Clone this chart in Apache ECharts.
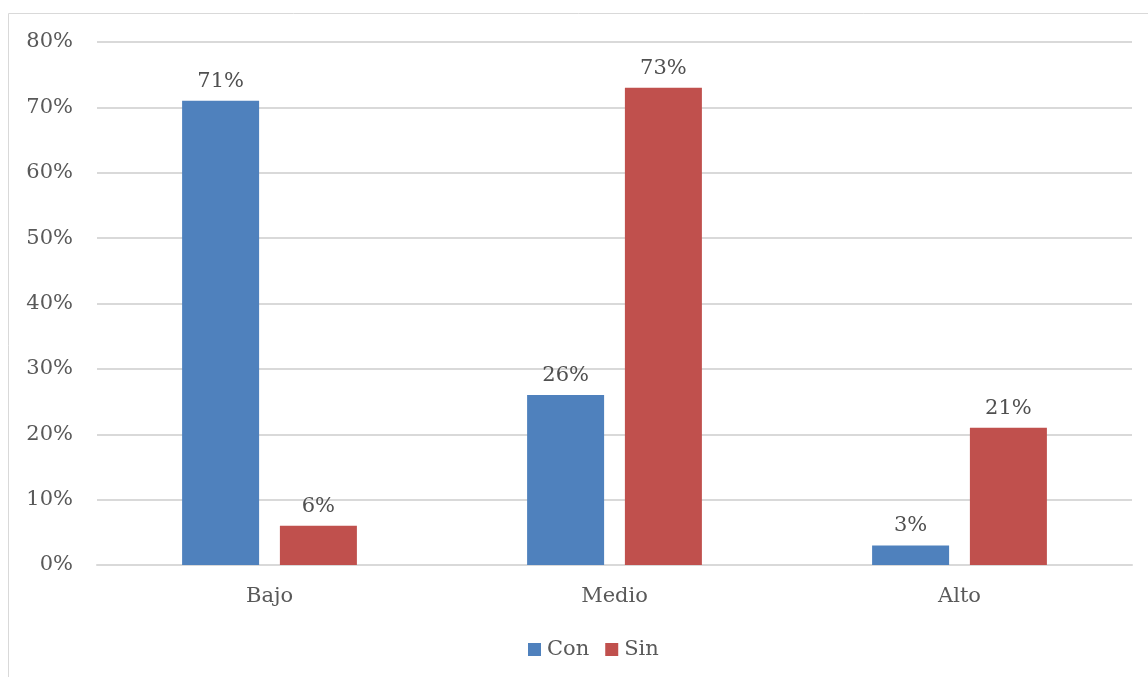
<!DOCTYPE html>
<html><head><meta charset="utf-8">
<script src="https://cdn.jsdelivr.net/npm/echarts@6/dist/echarts.min.js"></script>
<style>html,body{margin:0;padding:0;background:#fff}#c{width:1148px;height:677px}</style>
</head><body><div id="c"></div>
<script>
const categories = ['Bajo', 'Medio', 'Alto'];
const conValues = [71, 26, 3];
const sinValues = [6, 73, 21];
const seriesNames = ['Con', 'Sin'];
const FONT = '"DejaVu Serif", serif';
const chart = echarts.init(document.getElementById('c'));
const lbl = {show: true, position: 'top', distance: 9, formatter: p => p.value + '%', color: '#505050', fontFamily: FONT, fontSize: 21};
chart.setOption({
  animation: false,
  graphic: [{type: 'rect', shape: {x: 8.5, y: 13.5, width: 1200, height: 700}, style: {fill: 'none', stroke: '#d9d9d9', lineWidth: 1}, silent: true}],
  grid: {left: 97, right: 16, top: 42, bottom: 112},
  legend: {bottom: 12, left: 523, itemWidth: 13, itemHeight: 13, itemGap: 16, icon: 'rect',
    textStyle: {color: '#595959', fontFamily: FONT, fontSize: 21, padding: [0, 0, 0, 1]}, data: seriesNames},
  xAxis: {type: 'category', data: categories,
    axisLine: {lineStyle: {color: '#d9d9d9', width: 2}}, axisTick: {show: false},
    axisLabel: {color: '#595959', fontFamily: FONT, fontSize: 21, margin: 21}},
  yAxis: {type: 'value', min: 0, max: 80, interval: 10,
    axisLabel: {formatter: '{value}%', color: '#595959', fontFamily: FONT, fontSize: 21, margin: 24},
    splitLine: {lineStyle: {color: '#d9d9d9', width: 2}}, axisLine: {show: false}, axisTick: {show: false}},
  series: [
    {name: seriesNames[0], type: 'bar', data: conValues, barWidth: 77, barGap: '27%', itemStyle: {color: '#4F81BD'}, label: lbl},
    {name: seriesNames[1], type: 'bar', data: sinValues, barWidth: 77, itemStyle: {color: '#C0504D'}, label: lbl}
  ]
});
</script></body></html>
